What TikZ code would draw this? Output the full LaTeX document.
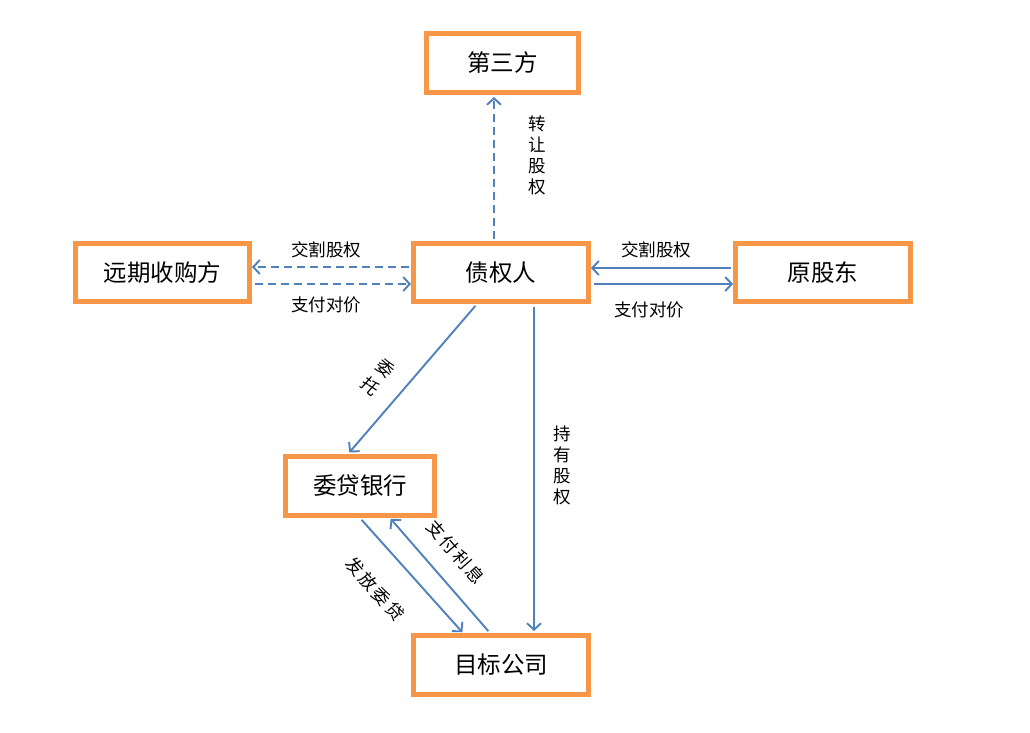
\documentclass[tikz,border=0pt]{standalone}
\usepackage{fontspec}
\newfontfamily\cjk{Noto Sans CJK SC}
\usetikzlibrary{arrows.meta}
\definecolor{lineblue}{HTML}{4F81BD}
\definecolor{boxorange}{HTML}{F79646}
\newcommand{\chsp}{\hspace{2.5pt}}
\begin{document}
\begin{tikzpicture}[x=1pt,y=-1pt,
  box/.style={draw=boxorange,line width=5pt,fill=white,inner sep=0pt,
    font=\cjk\fontsize{23.5}{26}\selectfont},
  conn/.style={draw=lineblue,line width=1.9pt,-{Straight Barb[length=6.5pt,width=14pt]},shorten >=1pt},
  dashline/.style={dash pattern=on 8pt off 5pt},
  lab/.style={font=\cjk\fontsize{17.5}{21}\selectfont,inner sep=0pt,align=center}]
\useasboundingbox[fill=white] (0,0) rectangle (1030,732);

% boxes
\node[box,minimum width=152pt,minimum height=59pt] (dsf) at (502.5,63) {第三方};
\node[box,minimum width=174pt,minimum height=58pt] (yq)  at (162.5,272.5) {远期收购方};
\node[box,minimum width=175pt,minimum height=58pt] (zq)  at (501,272.5) {债权人};
\node[box,minimum width=175pt,minimum height=58pt] (ygd) at (823,272.5) {原股东};
\node[box,minimum width=149pt,minimum height=59pt] (wd)  at (360,486) {委贷银行};
\node[box,minimum width=175pt,minimum height=59pt] (mb)  at (501,665) {目标公司};

% connectors
\draw[conn,dashline,shorten <=2.5pt,shorten >=2pt] (zq.north -| 494,0) -- (dsf.south -| 494,0);
\draw[conn,dashline,shorten <=2.5pt,shorten >=0pt] (zq.west |- 0,267) -- (yq.east |- 0,267);
\draw[conn,dashline,shorten <=2.5pt,shorten >=0pt] (yq.east |- 0,284) -- (zq.west |- 0,284);
\draw[conn,shorten <=2.5pt,shorten >=0pt] (ygd.west |- 0,268) -- (zq.east |- 0,268);
\draw[conn,shorten <=2.5pt,shorten >=0pt] (zq.east |- 0,284) -- (ygd.west |- 0,284);
\draw[conn,shorten <=2.5pt,shorten >=2pt] (zq.south -| 477,0) -- (wd.north -| 348,0);
\draw[conn,shorten <=2.5pt,shorten >=2pt] (zq.south -| 534,0) -- (mb.north -| 534,0);
\draw[conn,shorten <=2.5pt,shorten >=1pt] (wd.south -| 360,0) -- (mb.north -| 463,0);
\draw[conn,shorten <=2.5pt,shorten >=1pt] (mb.north -| 490,0) -- (wd.south -| 390,0);

% labels
\node[lab] (l1) at (537,155) {转\\让\\股\\权};
\node[lab] (l2) at (326,250) {交割股权};
\node[lab] (l3) at (326,305) {支付对价};
\node[lab] (l4) at (656,250) {交割股权};
\node[lab] (l5) at (649,310) {支付对价};
\node[lab,rotate=-41,font=\cjk\fontsize{17.5}{24}\selectfont] (l6) at (378,377) {委\\托};
\node[lab] (l7) at (562,465) {持\\有\\股\\权};
\node[lab,rotate=-49] (l8) at (456,552) {支\chsp 付\chsp 利\chsp 息};
\node[lab,rotate=-48] (l9) at (375,589) {发\chsp 放\chsp 委\chsp 贷};
\end{tikzpicture}
\end{document}
